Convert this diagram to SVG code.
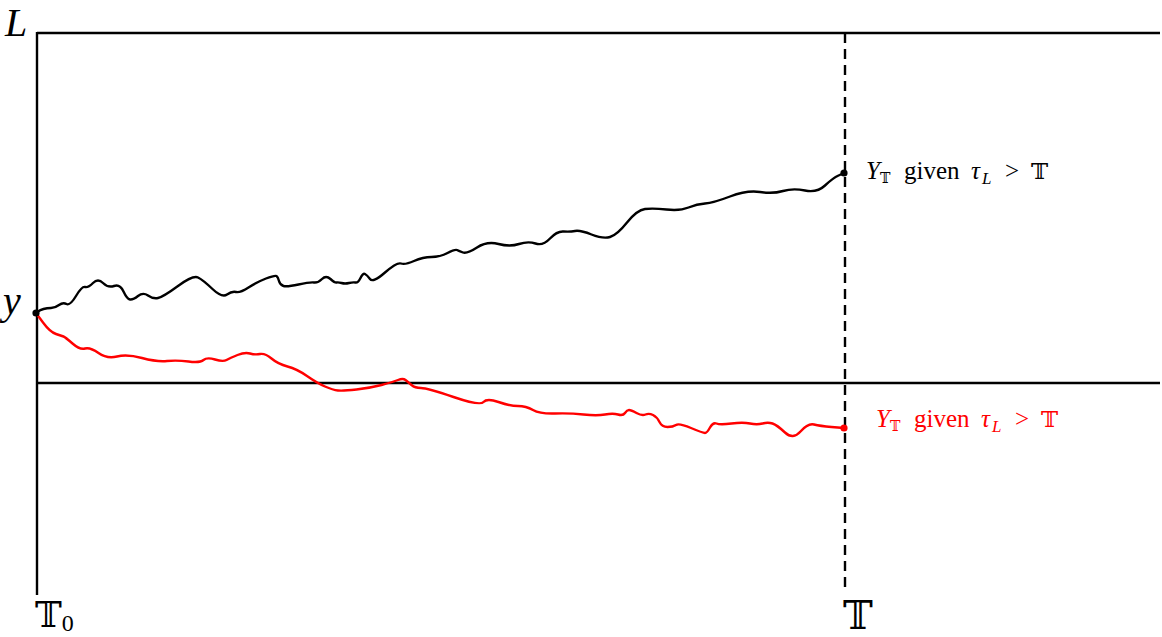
<svg xmlns="http://www.w3.org/2000/svg" width="1162" height="637" viewBox="0 0 1162 637">
<style>
.ax{stroke:#000;stroke-width:2.4;fill:none}
.dash{stroke:#000;stroke-width:2.4;fill:none;stroke-dasharray:10 6}
.path{stroke-width:2.4;fill:none;stroke-linejoin:round;stroke-linecap:round}
.big{font-family:"Liberation Serif",serif;font-style:italic;font-size:40px}
.bb{font-family:"DejaVu Serif","DejaVu Sans",serif;font-style:normal}
.lab{font-family:"Liberation Serif",serif;font-size:25px}
.it{font-style:italic}
</style>
<rect width="1162" height="637" fill="#fff"/>
<g id="axes">
<line class="ax" x1="37" y1="33" x2="1160" y2="33"/>
<line class="ax" x1="37" y1="32" x2="37" y2="595"/>
<line class="ax" x1="37" y1="383" x2="1160" y2="383"/>
<line class="dash" x1="845" y1="33" x2="845" y2="590"/>
</g>
<g id="connectors">
<path id="black-path" class="path" stroke="#000" d="M36,313 L38,311.5 Q40,310 43.5,309 Q47,308 51,308 Q55,308 59,305 Q63,302 66.5,304 Q70,306 76,296 Q82,286 85,287 Q88,288 93,283 Q98,278 103,283 Q108,288 114,286 Q120,284 123.5,291.5 Q127,299 130,299.5 Q133,300 138,296 Q143,292 148,295.5 Q153,299 158,298 Q163,297 178,286 Q193,275 198,277.5 Q203,280 212.5,289 Q222,298 227,294.5 Q232,291 236,292 Q240,293 248.5,287.5 Q257,282 266,278.5 Q275,275 276.5,276 Q278,277 279,281 Q280,285 283.5,286 Q287,287 298.5,284.5 Q310,282 314,282.5 Q318,283 322,279 Q326,275 330.5,279 Q335,283 336.5,282.5 Q338,282 341.5,283 Q345,284 349,283 Q353,282 355.5,282.5 Q358,283 360.5,278 Q363,273 365,274 Q367,275 370,279 Q373,283 385,272.5 Q397,262 401,263.5 Q405,265 414,261 Q423,257 431.5,257 Q440,257 447.5,253 Q455,249 457,250 Q459,251 463,252.5 Q467,254 477,247.5 Q487,241 498.5,244 Q510,247 519,244 Q528,241 535.5,243.5 Q543,246 550,238.5 Q557,231 563.5,231.5 Q570,232 575,231 Q580,230 591.5,234.5 Q603,239 610,237 Q617,235 627,222.5 Q637,210 645,209 Q653,208 666.5,209.5 Q680,211 688.5,207.5 Q697,204 705,203.5 Q713,203 730,196.5 Q747,190 760,192 Q773,194 783,191 Q793,188 805,190.5 Q817,193 825,185.5 Q833,178 838.5,175.5 L844,173"/>
<path id="red-path" class="path" stroke="#ff0000" d="M36,313 L43,322.5 Q50,332 56,334 Q62,336 63.5,336.5 Q65,337 72.5,343.5 Q80,350 85,348.5 Q90,347 98.5,353 Q107,359 117,356.5 Q127,354 142,358 Q157,362 167,361 Q177,360 188.5,361.5 Q200,363 203.5,360 Q207,357 215,359.5 Q223,362 226.5,360 Q230,358 237.5,355 Q245,352 250,353.5 Q255,355 260,354 Q265,353 271.5,358.5 Q278,364 287.5,366.5 Q297,369 307,376 Q317,383 325,386.5 Q333,390 338,390.5 Q343,391 356.5,389.5 Q370,388 381.5,385 Q393,382 398,380 Q403,378 405.5,380 Q408,382 411.5,385 Q415,388 421,388 Q427,388 453.5,397 Q480,406 483.5,402 Q487,398 498.5,402 Q510,406 518,406 Q526,406 533,410 Q540,414 555,413.5 Q570,413 583.5,414.5 Q597,416 605,414.5 Q613,413 618,414.5 Q623,416 625,413 Q627,410 629,410 Q631,410 636.5,413 Q642,416 645.5,414.5 Q649,413 653,415 Q657,417 659.5,422 Q662,427 667.5,427 Q673,427 676,425 Q679,423 691,428 Q703,433 705,433 Q707,433 710,427.5 Q713,422 716.5,423.5 Q720,425 731.5,423.5 Q743,422 750,423.5 Q757,425 762.5,423.5 Q768,422 772.5,423.5 Q777,425 785,432.5 Q793,440 800.5,431.5 Q808,423 814,424.5 Q820,426 831.5,427 L844,428"/>
</g>
<g id="start-point"><circle cx="36" cy="313" r="3.6" fill="#000"/></g>
<g id="end-black"><circle cx="844" cy="173" r="3.6" fill="#000"/>
<text class="lab" y="179"><tspan class="it" x="866">Y</tspan><tspan class="bb" x="880" y="183" font-size="14">𝕋</tspan><tspan x="904" y="179">given</tspan><tspan class="it" x="971">τ</tspan><tspan class="it" x="982" y="184" font-size="17">L</tspan><tspan x="1005" y="179">&gt;</tspan><tspan class="bb" x="1031" y="179" font-size="23">𝕋</tspan></text>
</g>
<g id="end-red"><circle cx="844" cy="428" r="3.6" fill="#ff0000"/>
<text class="lab" y="427" fill="#ff0000"><tspan class="it" x="876">Y</tspan><tspan class="bb" x="890" y="431" font-size="14">𝕋</tspan><tspan x="914" y="427">given</tspan><tspan class="it" x="981">τ</tspan><tspan class="it" x="992" y="432" font-size="17">L</tspan><tspan x="1015" y="427">&gt;</tspan><tspan class="bb" x="1041" y="427" font-size="23">𝕋</tspan></text>
</g>
<g id="label-L"><text class="big" x="5" y="36" font-size="38">L</text></g>
<g id="label-y"><text class="big" x="3" y="314">y</text></g>
<g id="label-T0"><text class="big" x="35" y="627"><tspan class="bb" font-size="36">𝕋</tspan><tspan font-style="normal" font-size="24" dy="4">0</tspan></text></g>
<g id="label-T"><text class="big bb" x="843" y="629" font-size="36">𝕋</text></g>
</svg>
